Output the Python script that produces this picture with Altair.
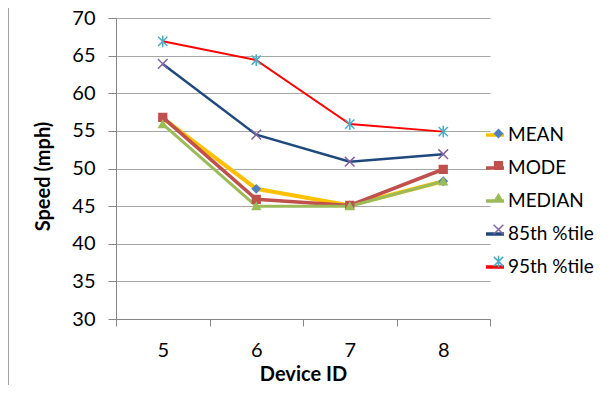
import altair as alt
import pandas as pd

devices = ["5", "6", "7", "8"]
series = ["MEAN", "MODE", "MEDIAN", "85th %tile", "95th %tile"]
mean_v = [56.7, 47.3, 45.1, 48.3]
mode_v = [56.8, 45.9, 45.1, 49.9]
median_v = [55.9, 45.0, 45.0, 48.3]
p85_v = [63.9, 54.5, 50.9, 51.9]
p95_v = [66.9, 64.4, 55.9, 54.9]
y_ticks = [30, 35, 40, 45, 50, 55, 60, 65, 70]

line_colors = ["#FFC000", "#C0504D", "#9BBB59", "#1F497D", "#FF0000"]
marker_colors = ["#4F81BD", "#C0504D", "#9BBB59", "#8064A2", "#4BACC6"]
line_widths = [4, 2, 2, 3.5, 4]
x_path = "M-1.25,-1.25L1.25,1.25M1.25,-1.25L-1.25,1.25"
star_path = "M-1.2,-1.2L1.2,1.2M1.2,-1.2L-1.2,1.2M0,-1.5L0,1.5"
marker_shapes = ["diamond", "square", "triangle-up", x_path, star_path]

rows = []
for name, vals in zip(series, [mean_v, mode_v, median_v, p85_v, p95_v]):
    for d, v in zip(devices, vals):
        rows.append({"device": d, "series": name, "marker": name, "speed": v})
df = pd.DataFrame(rows)

FONT = "Lato"

# per-entry marker colour for the legend symbols
color_expr = "[{}][indexof([{}], datum.value)]".format(
    ",".join("'%s'" % c for c in marker_colors),
    ",".join("'%s'" % s for s in series),
)

x_enc = alt.X(
    "device:N",
    sort=devices,
    scale=alt.Scale(type="band", paddingInner=0, paddingOuter=0),
    axis=alt.Axis(
        title="Device ID", tickBand="extent", grid=False, labelAngle=0,
        domainColor="#868686", tickColor="#868686", tickSize=7,
        labelFont=FONT, labelFontSize=20, labelColor="#000000", labelPadding=14,
        titleFont=FONT, titleFontSize=20, titleFontWeight="bold", titleColor="#000000",
        titlePadding=4,
    ),
)
y_enc = alt.Y(
    "speed:Q",
    scale=alt.Scale(domain=[30, 70], nice=False, zero=False),
    axis=alt.Axis(
        title="Speed (mph)", values=y_ticks, labelOverlap=False,
        gridColor="#A6A6A6", gridWidth=1, domainColor="#868686", tickColor="#868686",
        tickSize=8, labelFont=FONT, labelFontSize=20, labelColor="#000000", labelPadding=13,
        titleFont=FONT, titleFontSize=20, titleFontWeight="bold", titleColor="#000000",
        titlePadding=18, titleY=158,
    ),
)

line_legend = alt.Legend(
    orient="none", legendX=368, legendY=106, title=None, padding=0,
    symbolType="stroke", symbolSize=324, symbolStrokeWidth=3.5,
    labelFont=FONT, labelFontSize=19, labelColor="#000000", labelOffset=2,
    rowPadding=12,
)
marker_legend = alt.Legend(
    orient="none", legendX=373, legendY=106, title=None, padding=0,
    symbolSize=60, symbolStrokeWidth=1.5,
    symbolFillColor={"expr": color_expr}, symbolStrokeColor={"expr": color_expr},
    labelFont=FONT, labelFontSize=19, labelExpr="''", labelOffset=0,
    rowPadding=12,
)

lines = alt.Chart(df).mark_line().encode(
    x=x_enc,
    y=y_enc,
    stroke=alt.Stroke(
        "series:N", sort=series, scale=alt.Scale(range=line_colors), legend=line_legend
    ),
    strokeWidth=alt.StrokeWidth(
        "series:N", sort=series, scale=alt.Scale(range=line_widths), legend=None
    ),
    order=alt.Order("device:N"),
)

points = alt.Chart(df).mark_point(filled=False, size=60, strokeWidth=1.5, opacity=1).encode(
    x=x_enc,
    y=y_enc,
    color=alt.Color(
        "marker:N", sort=series, scale=alt.Scale(range=marker_colors), legend=None
    ),
    fill=alt.Fill(
        "marker:N", sort=series, scale=alt.Scale(range=marker_colors), legend=None
    ),
    shape=alt.Shape(
        "marker:N", sort=series, scale=alt.Scale(range=marker_shapes), legend=marker_legend
    ),
)

border = alt.Chart(pd.DataFrame({"a": [0]})).mark_rule(color="#A0A0A0", strokeWidth=1).encode(
    x=alt.value(-107.5), y=alt.value(-10), y2=alt.value(370)
)

chart = (
    alt.layer(border, lines, points)
    .properties(
        width=374, height=301,
        autosize=alt.AutoSizeParams(type="none"),
        padding={"left": 108, "top": 10, "right": 116, "bottom": 66},
    )
    .configure_view(stroke=None)
)

chart.save("out.html", embed_options={"renderer": "svg", "actions": False})
